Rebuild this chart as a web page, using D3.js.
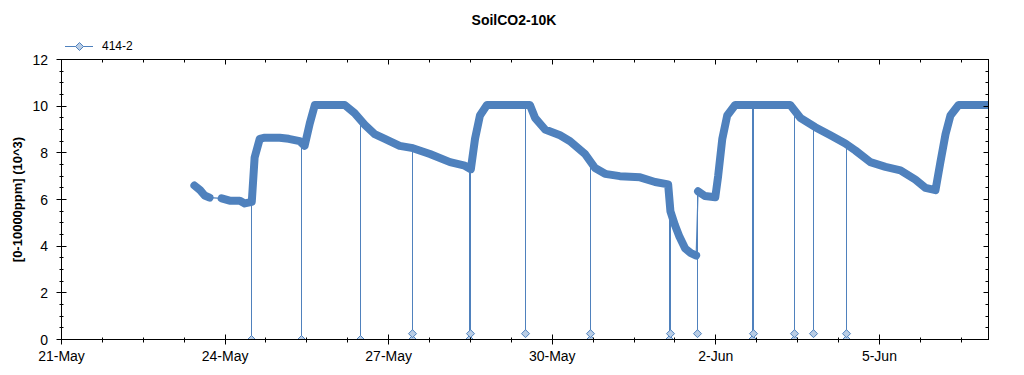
<!DOCTYPE html>
<html>
<head>
<meta charset="utf-8">
<script src="https://cdn.jsdelivr.net/npm/d3@7"></script>
<style>
  body { margin: 0; background: #fff; }
  text { font-family: "Liberation Sans", Arial, sans-serif; }
</style>
</head>
<body>
<script>

// series 414-2 (null = gap in the dense band)
var band = [
  ["2021-05-23 10:30", 6.6], ["2021-05-23 13:00", 6.4], ["2021-05-23 15:00", 6.17],
  ["2021-05-23 17:10", 6.08], null,
  ["2021-05-23 22:30", 6.05], ["2021-05-24 02:00", 5.95], ["2021-05-24 06:30", 5.95],
  ["2021-05-24 08:40", 5.83], ["2021-05-24 11:45", 5.9], ["2021-05-24 13:00", 7.8],
  ["2021-05-24 15:15", 8.6], ["2021-05-24 17:30", 8.65], ["2021-05-25 00:00", 8.65],
  ["2021-05-25 04:00", 8.6], ["2021-05-25 08:50", 8.5], ["2021-05-25 11:00", 8.3],
  ["2021-05-25 13:15", 9.25], ["2021-05-25 15:30", 10.05], ["2021-05-26 04:40", 10.05],
  ["2021-05-26 09:00", 9.7], ["2021-05-26 13:30", 9.2], ["2021-05-26 17:50", 8.8],
  ["2021-05-26 22:20", 8.6], ["2021-05-27 04:50", 8.3], ["2021-05-27 10:40", 8.2],
  ["2021-05-27 18:10", 7.95], ["2021-05-28 03:00", 7.6], ["2021-05-28 09:30", 7.45],
  ["2021-05-28 12:10", 7.3], ["2021-05-28 14:00", 8.6], ["2021-05-28 16:10", 9.6],
  ["2021-05-28 19:15", 10.05], ["2021-05-29 14:10", 10.05], ["2021-05-29 16:25", 9.5],
  ["2021-05-29 20:50", 9.0], ["2021-05-30 03:25", 8.75], ["2021-05-30 07:50", 8.5],
  ["2021-05-30 14:25", 7.95], ["2021-05-30 18:50", 7.35], ["2021-05-30 23:15", 7.1],
  ["2021-05-31 05:45", 7.0], ["2021-05-31 14:40", 6.95], ["2021-05-31 21:15", 6.75],
  ["2021-06-01 03:00", 6.65], ["2021-06-01 04:00", 5.5], ["2021-06-01 06:00", 4.9],
  ["2021-06-01 08:00", 4.4], ["2021-06-01 10:30", 3.9], ["2021-06-01 13:00", 3.7],
  ["2021-06-01 15:20", 3.6], null,
  ["2021-06-01 16:10", 6.35], ["2021-06-01 19:10", 6.15], ["2021-06-01 23:45", 6.1],
  ["2021-06-02 01:00", 7.0], ["2021-06-02 02:50", 8.6], ["2021-06-02 05:00", 9.6],
  ["2021-06-02 08:30", 10.05], ["2021-06-03 08:45", 10.05], ["2021-06-03 13:10", 9.5],
  ["2021-06-03 19:45", 9.1], ["2021-06-04 02:25", 8.75], ["2021-06-04 09:00", 8.4],
  ["2021-06-04 13:25", 8.1], ["2021-06-04 20:00", 7.6], ["2021-06-05 02:40", 7.4],
  ["2021-06-05 09:15", 7.25], ["2021-06-05 15:50", 6.85], ["2021-06-05 20:15", 6.5],
  ["2021-06-06 00:40", 6.4], ["2021-06-06 02:50", 7.6], ["2021-06-06 05:05", 8.8],
  ["2021-06-06 07:15", 9.6], ["2021-06-06 10:50", 10.05], ["2021-06-07 00:00", 10.05]
];

// single-sample dropouts: time, value before the drop, dropped value
var spikes = [
  ["2021-05-24 11:45", 5.9, 0.0], ["2021-05-25 09:45", 8.45, 0.0],
  ["2021-05-26 11:45", 9.5, 0.0], ["2021-05-27 10:40", 8.2, 0.0],
  ["2021-05-27 10:40", 8.2, 0.25], ["2021-05-28 11:30", 7.35, 0.0],
  ["2021-05-28 11:50", 7.35, 0.25], ["2021-05-29 12:00", 10.05, 0.25],
  ["2021-05-30 16:40", 7.6, 0.0], ["2021-05-30 16:40", 7.6, 0.25],
  ["2021-06-01 03:40", 6.7, 0.0], ["2021-06-01 03:55", 6.7, 0.25],
  ["2021-06-01 15:45", 6.35, 0.25], ["2021-06-02 16:10", 10.05, 0.0],
  ["2021-06-02 16:30", 10.05, 0.25], ["2021-06-03 10:35", 10.0, 0.0],
  ["2021-06-03 10:35", 10.0, 0.25], ["2021-06-03 18:50", 9.1, 0.25],
  ["2021-06-04 09:20", 8.4, 0.0], ["2021-06-04 09:20", 8.4, 0.25]
];

var xStart = "2021-05-21 00:00", xEnd = "2021-06-07 00:00";
var xTickLabels = ["21-May", "24-May", "27-May", "30-May", "2-Jun", "5-Jun"];
var yTicks = [0, 2, 4, 6, 8, 10, 12];

var title = "SoilCO2-10K", yLabel = "[0-10000ppm] (10^3)", seriesName = "414-2";

var blue = "#4f81bd", lightFill = "#b9cde5";

var W = 1024, H = 375;
var pL = 61.5, pR = 988.5, pT = 59.5, pB = 339.5;

var parse = d3.timeParse("%Y-%m-%d %H:%M");
var t0 = parse(xStart), t1 = parse(xEnd);

var x = d3.scaleTime().domain([t0, t1]).range([pL, pR]);
var y = d3.scaleLinear().domain([0, 12]).range([pB, pT]);

// snap to pixel centres so 1px strokes stay crisp
function px(v) { return Math.round(v - 0.5) + 0.5; }

var svg = d3.select("body").append("svg")
  .attr("width", W).attr("height", H);

svg.append("defs").append("clipPath").attr("id", "plot")
  .append("rect").attr("x", pL).attr("y", pT)
  .attr("width", pR - pL).attr("height", pB - pT);

var pts = band.map(function(d) { return d ? { t: parse(d[0]), v: d[1] } : null; });

var g = svg.append("g").attr("clip-path", "url(#plot)");

// thin connecting line through every sample
var thin = d3.line().x(function(d) { return x(d.t); }).y(function(d) { return y(d.v); });
g.append("path")
  .attr("d", thin(pts.filter(function(d) { return d; })))
  .attr("fill", "none").attr("stroke", blue).attr("stroke-width", 1.2);

// dense band of overlapping markers
var thick = d3.line()
  .defined(function(d) { return d; })
  .x(function(d) { return x(d.t); }).y(function(d) { return y(d.v); });
g.append("path")
  .attr("d", thick(pts))
  .attr("fill", "none").attr("stroke", blue).attr("stroke-width", 8)
  .attr("stroke-linejoin", "round").attr("stroke-linecap", "round");

// dropouts
var sp = spikes.map(function(d) { return { t: parse(d[0]), top: d[1], low: d[2] }; });
g.selectAll(".spike").data(sp).enter().append("line")
  .attr("class", "spike")
  .attr("x1", function(d) { return px(x(d.t)); }).attr("x2", function(d) { return px(x(d.t)); })
  .attr("y1", function(d) { return y(d.top); }).attr("y2", function(d) { return y(d.low); })
  .attr("stroke", blue).attr("stroke-width", 1);

var diamond = "M0,-4L4,0L0,4L-4,0Z";
g.selectAll(".mk").data(sp).enter().append("path")
  .attr("class", "mk")
  .attr("d", diamond)
  .attr("transform", function(d) { return "translate(" + px(x(d.t)) + "," + y(d.low) + ")"; })
  .attr("fill", lightFill).attr("stroke", blue).attr("stroke-width", 1);

// frame
svg.append("rect").attr("x", pL).attr("y", pT)
  .attr("width", pR - pL).attr("height", pB - pT)
  .attr("fill", "none").attr("stroke", "#000").attr("stroke-width", 1);

// x ticks: major every 3 days, minor every 18 hours
var major = d3.range(0, 18, 3).map(function(k) { return d3.timeDay.offset(t0, k); });
var minor = d3.range(0, 17 * 24 + 1, 18).map(function(h) { return d3.timeHour.offset(t0, h); });

var ax = svg.append("g").attr("stroke", "#000").attr("stroke-width", 1);
minor.forEach(function(t) {
  var xx = px(x(t));
  ax.append("line").attr("x1", xx).attr("x2", xx).attr("y1", pB - 2).attr("y2", pB + 3);
  ax.append("line").attr("x1", xx).attr("x2", xx).attr("y1", pT).attr("y2", pT + 3);
});
major.forEach(function(t) {
  var xx = px(x(t));
  ax.append("line").attr("x1", xx).attr("x2", xx).attr("y1", pB - 5).attr("y2", pB + 5);
  ax.append("line").attr("x1", xx).attr("x2", xx).attr("y1", pT).attr("y2", pT + 5);
});
svg.selectAll(".xl").data(major).enter().append("text")
  .attr("x", function(d) { return x(d); }).attr("y", 361)
  .attr("text-anchor", "middle").attr("font-size", 14)
  .text(function(d, i) { return xTickLabels[i]; });

// y ticks: major every 2, minor every 0.5
d3.range(0, 12.01, 0.5).forEach(function(v) {
  var isMajor = v % 2 === 0, yy = px(y(v));
  ax.append("line").attr("x1", pL - (isMajor ? 5 : 2)).attr("x2", pL + (isMajor ? 5 : 2))
    .attr("y1", yy).attr("y2", yy);
  ax.append("line").attr("x1", pR - (isMajor ? 5 : 3)).attr("x2", pR)
    .attr("y1", yy).attr("y2", yy);
});
svg.selectAll(".yl").data(yTicks).enter().append("text")
  .attr("x", 48).attr("y", function(d) { return y(d) + 5; })
  .attr("text-anchor", "end").attr("font-size", 14)
  .text(function(d) { return d; });

// title and axis label
svg.append("text").attr("x", 514).attr("y", 25)
  .attr("text-anchor", "middle").attr("font-size", 14).attr("font-weight", "bold")
  .text(title);
svg.append("text")
  .attr("transform", "translate(22," + ((pT + pB) / 2) + ") rotate(-90)")
  .attr("text-anchor", "middle").attr("font-size", 13).attr("font-weight", "bold")
  .text(yLabel);

// legend
var lg = svg.append("g");
lg.append("line").attr("x1", 65).attr("x2", 93).attr("y1", 46.5).attr("y2", 46.5)
  .attr("stroke", blue).attr("stroke-width", 1);
lg.append("path").attr("d", diamond).attr("transform", "translate(79.5,46.5)")
  .attr("fill", lightFill).attr("stroke", blue);
lg.append("text").attr("x", 102).attr("y", 50).attr("font-size", 12).text(seriesName);

</script>
</body>
</html>
